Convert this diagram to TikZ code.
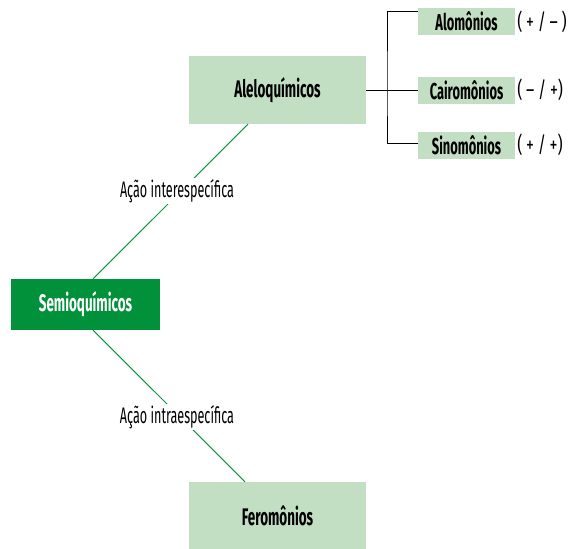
\documentclass[tikz,border=0pt]{standalone}
\usepackage{fontspec}
\setmainfont[FakeStretch=0.56]{Fira Sans}
\newfontfamily\signfont[FakeStretch=0.72]{Fira Sans}
\definecolor{dkgreen}{RGB}{0,145,58}
\definecolor{ltgreen}{RGB}{194,223,196}
\definecolor{lngreen}{RGB}{20,150,70}
\begin{document}
\begin{tikzpicture}[x=1pt,y=-1pt,
  bigbox/.style={fill=ltgreen,minimum width=177pt,minimum height=68pt,inner sep=0pt,font=\fontsize{24}{26}\selectfont\bfseries},
  smallbox/.style={fill=ltgreen,minimum width=97pt,minimum height=27pt,inner sep=0pt,font=\fontsize{23}{25}\selectfont\bfseries},
  rootbox/.style={fill=dkgreen,text=white,minimum width=149pt,minimum height=51pt,inner sep=0pt,font=\fontsize{24}{26}\selectfont\bfseries},
  edgelbl/.style={fill=white,inner sep=1pt,font=\fontsize{22.5}{24}\selectfont},
  signlbl/.style={anchor=west,inner sep=0pt,font=\signfont\fontsize{22}{24}\selectfont},
  gline/.style={draw=lngreen,line width=1pt},
  bline/.style={draw=black,line width=1pt}]
\useasboundingbox (0,0) rectangle (568,549);
\node[rootbox] (semio) at (85.5,304.5) {Semioquímicos};
\node[bigbox] (alelo) at (277.5,90) {Aleloquímicos};
\node[bigbox] (fero) at (277.5,516) {Feromônios};
\node[smallbox] (alo) at (466.5,21.5) {Alomônios};
\node[smallbox] (cairo) at (466.5,90) {Cairomônios};
\node[smallbox] (sino) at (466.5,145) {Sinomônios};
\node[signlbl] (salo) at ([xshift=2pt]alo.east) {(\,+\,/\,–\,)};
\node[signlbl] (scairo) at ([xshift=2pt]cairo.east) {(\,–\,/\,+)};
\node[signlbl] (ssino) at ([xshift=2pt]sino.east) {(\,+\,/\,+)};
\coordinate (br) at (387,90);
\draw[gline] ([xshift=7.5pt]semio.north) -- ([xshift=-29.5pt]alelo.south);
\draw[gline] ([xshift=7.5pt]semio.south) -- ([xshift=-32.5pt]fero.north);
\node[edgelbl] (inter) at (177,191) {Ação interespecífica};
\node[edgelbl] (intra) at (177,417) {Ação intraespecífica};
\draw[bline] (alelo.east) -- (cairo.west);
\draw[bline] ([yshift=10.5pt]alo.west) -| (br) |- ([yshift=2pt]sino.west);
\end{tikzpicture}
\end{document}
